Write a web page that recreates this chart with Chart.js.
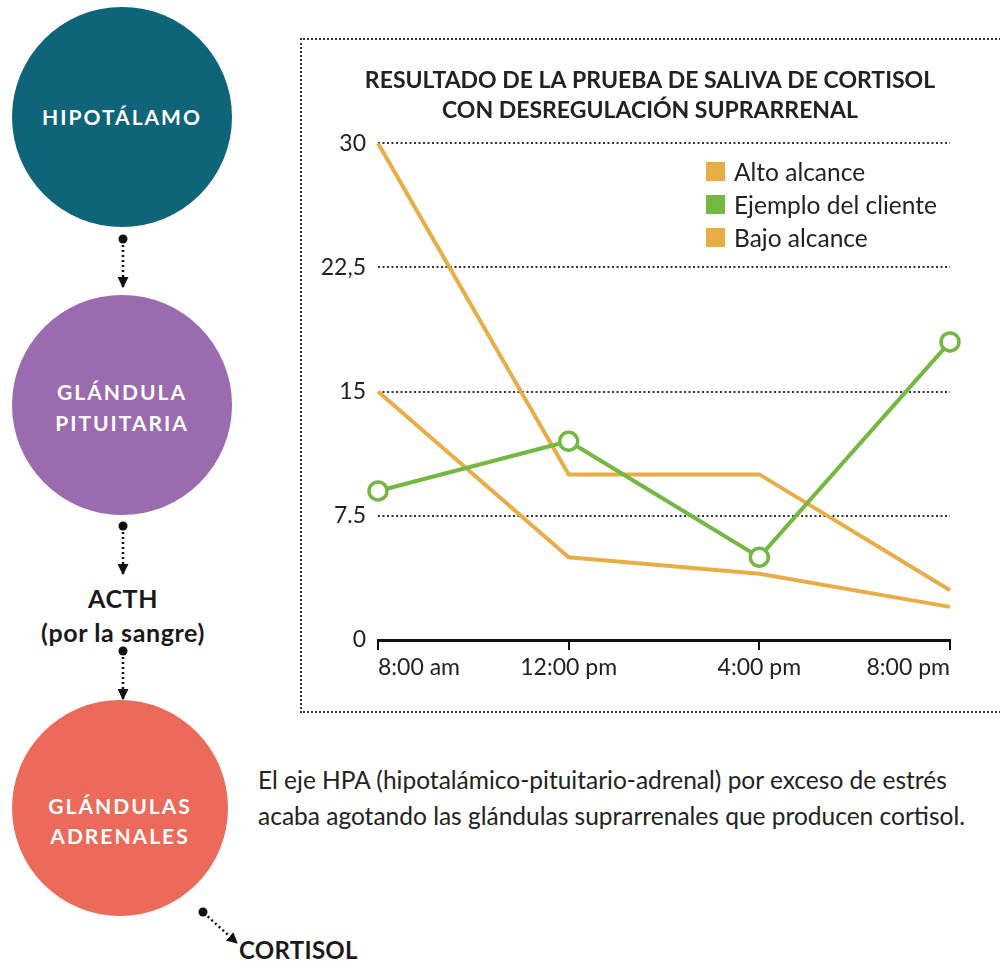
<!DOCTYPE html>
<html lang="es">
<head>
<meta charset="UTF-8">
<title>Prueba de saliva de cortisol</title>
<script src="https://cdn.jsdelivr.net/npm/chart.js"></script>
<style>
    body { margin: 0; background: #fff; font-family: Lato, "Open Sans", sans-serif; color: #222; }
    .lienzo { position: relative; width: 1000px; height: 961px; overflow: hidden; }
    .caja { position: absolute; left: 300px; top: 38px; width: 720px; height: 675px; border: 2px dotted #333; box-sizing: border-box; }
    .grafico { position: absolute; left: 300px; top: 38px; width: 700px; height: 674px; }
    .leyenda { position: absolute; left: 706px; top: 155px; font-size: 24.5px; }
    .leyenda div { height: 33px; display: flex; align-items: center; }
    .leyenda span { display: inline-block; width: 19px; height: 19px; margin-right: 9px; }
    .nota { position: absolute; left: 258px; top: 762px; font-size: 24.5px; line-height: 36px; }
    svg { position: absolute; left: 0; top: 0; }
</style>
</head>
<body>
<div class="lienzo">

    <!-- eje HPA a la izquierda -->
    <svg width="1000" height="961" font-family="Lato, sans-serif" font-weight="bold">
        <defs>
            <marker id="punta" viewBox="0 0 10 10" refX="9" refY="5" markerWidth="11" markerHeight="11" markerUnits="userSpaceOnUse" orient="auto">
                <path d="M0,0 L10,5 L0,10 z" fill="#111"/>
            </marker>
        </defs>

        <circle cx="122" cy="117" r="110" fill="#0e6479"/>
        <text x="122" y="125" fill="#fff" font-size="21" letter-spacing="2" text-anchor="middle">HIPOTÁLAMO</text>

        <circle cx="122" cy="405" r="110" fill="#9a6bae"/>
        <text x="122" y="400" fill="#fff" font-size="21" letter-spacing="2" text-anchor="middle">GLÁNDULA</text>
        <text x="122" y="431" fill="#fff" font-size="21" letter-spacing="2" text-anchor="middle">PITUITARIA</text>

        <circle cx="120" cy="808" r="108" fill="#ec6a5a"/>
        <text x="120" y="814" fill="#fff" font-size="21" letter-spacing="2" text-anchor="middle">GLÁNDULAS</text>
        <text x="120" y="844" fill="#fff" font-size="21" letter-spacing="2" text-anchor="middle">ADRENALES</text>

        <g stroke="#111" stroke-width="2.5" stroke-dasharray="2 3" fill="none" marker-end="url(#punta)">
            <line x1="123" y1="240" x2="123" y2="287"/>
            <line x1="123" y1="527" x2="123" y2="574"/>
            <line x1="123" y1="652" x2="123" y2="699"/>
            <line x1="204" y1="913" x2="237" y2="943"/>
        </g>
        <g fill="#111">
            <circle cx="123" cy="239" r="4.5"/>
            <circle cx="123" cy="526" r="4.5"/>
            <circle cx="123" cy="651" r="4.5"/>
            <circle cx="203" cy="912" r="4.5"/>
        </g>

        <text x="123" y="608" fill="#1a1a1a" font-size="25" letter-spacing="0.6" text-anchor="middle">ACTH</text>
        <text x="123" y="642" fill="#1a1a1a" font-size="25" letter-spacing="0.6" text-anchor="middle">(por la sangre)</text>
        <text x="239" y="959" fill="#1a1a1a" font-size="24" letter-spacing="0.3">CORTISOL</text>
    </svg>

    <div class="caja"></div>
    <div class="grafico"><canvas id="cortisol"></canvas></div>
    <div class="leyenda" id="leyenda"></div>

    <div class="nota">
        El eje HPA (hipotalámico-pituitario-adrenal) por exceso de estrés<br>
        acaba agotando las glándulas suprarrenales que producen cortisol.
    </div>
</div>

<script>
    // horas de la muestra y valores de cortisol
    var horas = ['8:00 am', '12:00 pm', '4:00 pm', '8:00 pm'];
    var altoAlcance = [30, 10, 10, 3];
    var ejemploCliente = [9, 12, 5, 18];
    var bajoAlcance = [15, 5, 4, 2];

    var marcasY = [0, 7.5, 15, 22.5, 30];
    var textosY = ['0', '7.5', '15', '22,5', '30'];

    var naranja = '#e9ad48';
    var verde = '#74b843';

    var dados = {
        labels: horas,
        datasets: [
            { label: 'Alto alcance', data: altoAlcance, borderColor: naranja, backgroundColor: naranja, borderWidth: 4, pointRadius: 0, order: 2 },
            { label: 'Ejemplo del cliente', data: ejemploCliente, borderColor: verde, backgroundColor: verde, borderWidth: 4,
              pointRadius: 9, pointBorderWidth: 3.5, pointBackgroundColor: '#fff', pointBorderColor: verde, order: 0 },
            { label: 'Bajo alcance', data: bajoAlcance, borderColor: naranja, backgroundColor: naranja, borderWidth: 4, pointRadius: 0, order: 1 }
        ]
    };

    var fonte = { family: 'Lato, sans-serif', size: 23 };

    var config = {
        type: 'line',
        data: dados,
        options: {
            responsive: false,
            animation: false,
            layout: { padding: { left: 0, right: 0, top: 0, bottom: 22 } },
            plugins: {
                legend: { display: false },
                tooltip: { enabled: false },
                title: {
                    display: true,
                    text: ['RESULTADO DE LA PRUEBA DE SALIVA DE CORTISOL', 'CON DESREGULACIÓN SUPRARRENAL'],
                    color: '#222',
                    font: { family: 'Lato, sans-serif', size: 23, weight: 'bold', lineHeight: 1.33 },
                    padding: { top: 27, bottom: 17 }
                }
            },
            scales: {
                x: {
                    offset: false,
                    grid: { display: true, drawOnChartArea: false, drawTicks: true, tickLength: 10, color: '#111', lineWidth: 2 },
                    border: { display: true, color: '#111', width: 3 },
                    ticks: { color: '#222', font: fonte, align: 'inner', padding: 4, maxRotation: 0 },
                    afterFit: function (s) { s.height = 50; }
                },
                y: {
                    min: 0,
                    max: 30,
                    afterBuildTicks: function (s) { s.ticks = marcasY.map(function (v) { return { value: v }; }); },
                    ticks: {
                        color: '#222', font: fonte, padding: 12,
                        callback: function (v, i) { return textosY[i]; }
                    },
                    grid: {
                        drawTicks: false,
                        lineWidth: 2,
                        color: function (c) { return c.tick && c.tick.value === 0 ? 'rgba(0,0,0,0)' : '#333'; }
                    },
                    border: { display: false, dash: [2, 2.5] },
                    afterFit: function (s) { s.width = 78; }
                },
                // margen derecho vacío, deja el título centrado en la caja
                margen: {
                    position: 'right',
                    grid: { display: false },
                    border: { display: false },
                    ticks: { display: false },
                    afterFit: function (s) { s.width = 50; }
                }
            }
        }
    };

    var canvas = document.getElementById('cortisol');
    canvas.width = 700;
    canvas.height = 674;
    var grafico = new Chart(canvas, config);

    // leyenda a partir de los datasets
    var leyenda = document.getElementById('leyenda');
    dados.datasets.forEach(function (d) {
        leyenda.innerHTML += '<div><span style="background:' + d.borderColor + '"></span>' + d.label + '</div>';
    });
</script>
</body>
</html>
